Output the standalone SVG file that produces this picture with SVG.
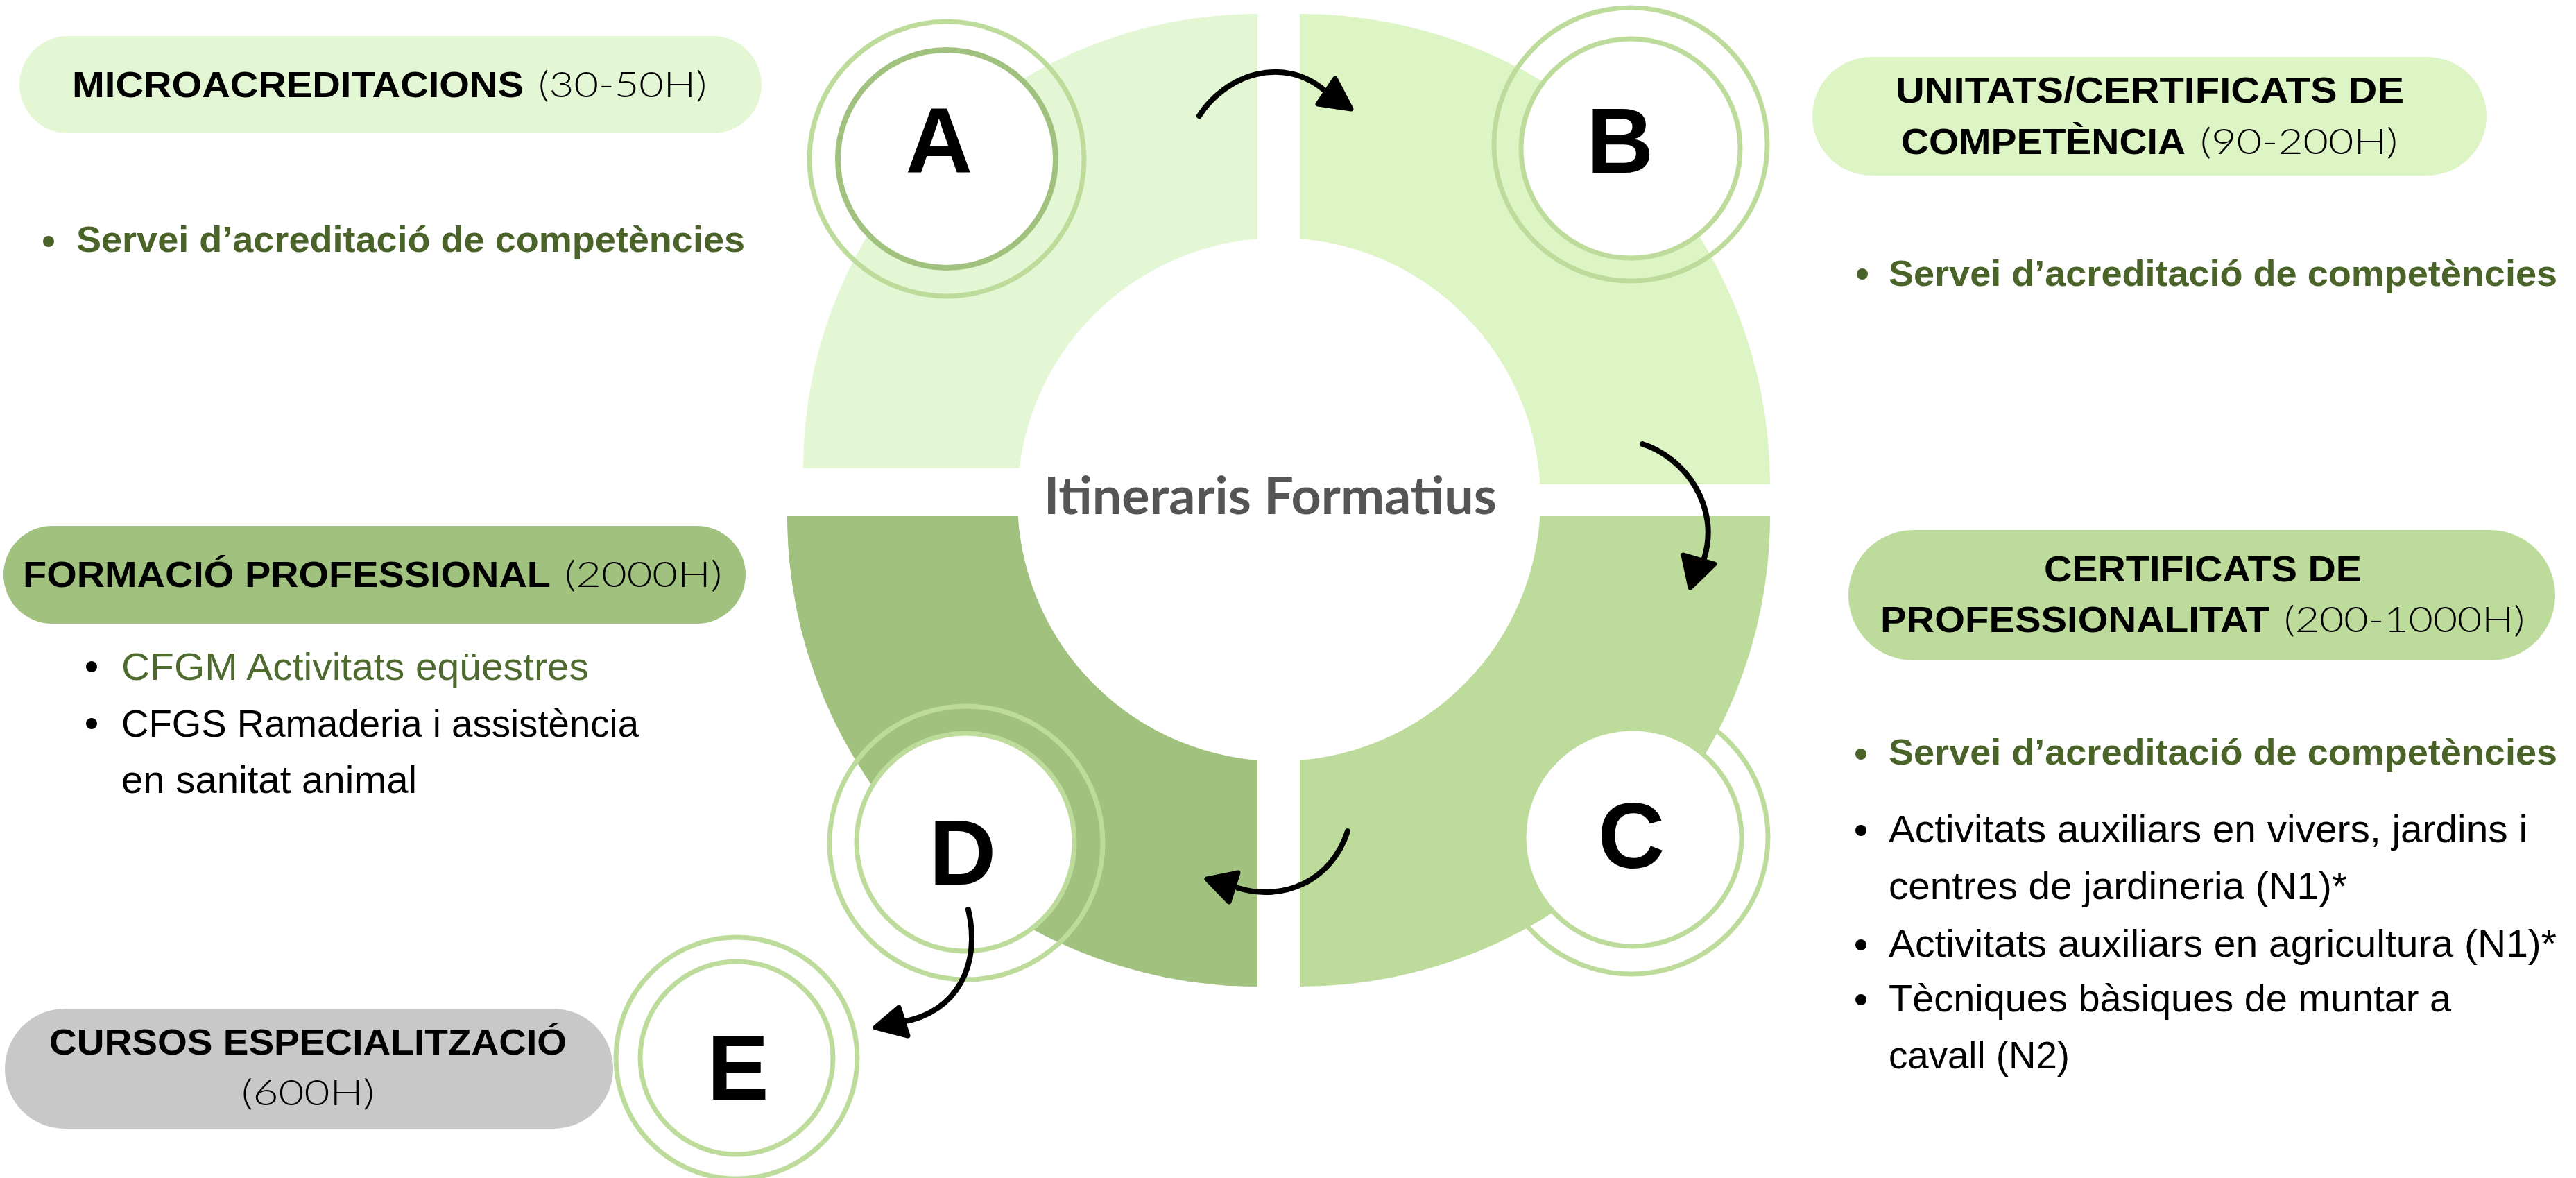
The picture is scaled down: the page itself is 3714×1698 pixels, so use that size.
<svg xmlns="http://www.w3.org/2000/svg" width="3714" height="1698" viewBox="0 0 3714 1698">
<style>
.ring{fill:none;stroke:#bddc9b;stroke-width:7}
.inner{fill:#fff;stroke:#bddc9b;stroke-width:7}
.letter{font-family:"Liberation Sans",Arial,sans-serif;font-weight:700;font-size:134px;fill:#000;text-anchor:middle}
.hb{font-family:"Liberation Sans",Arial,sans-serif;font-weight:700;font-size:52px;fill:#000}
.hl{font-family:Lato,"Open Sans",sans-serif;font-weight:300;font-size:52px;fill:#000}
.bg{font-family:"Liberation Sans",Arial,sans-serif;font-weight:700;font-size:52px;fill:#4a6329}
.br{font-family:"Liberation Sans",Arial,sans-serif;font-weight:400;font-size:56px;fill:#000}
.gr{fill:#4e6a2e}
.dotg{fill:#4a6329}
.dot{fill:#000}
.arrow{fill:none;stroke:#000;stroke-width:8;stroke-linecap:round}
.head{fill:#000;stroke:#000;stroke-width:7;stroke-linejoin:round}
</style>
<rect width="3714" height="1698" fill="#fff"/>
<g id="ring">
<path d="M1813,675 L1158,675 A655,655 0 0 1 1813,20 Z" fill="#e4f7d4"/>
<path d="M1874,698 L1874,20 A678,678 0 0 1 2552,698 Z" fill="#ddf4c5"/>
<path d="M1874,744 L2552,744 A678,678 0 0 1 1874,1422 Z" fill="#bddc9b"/>
<path d="M1813,744 L1813,1422 A678,678 0 0 1 1135,744 Z" fill="#a1c17e"/>
<circle cx="1844" cy="720" r="377" fill="#fff"/>
<text x="1505" y="741" textLength="653" lengthAdjust="spacingAndGlyphs" font-family="Lato,'Liberation Sans',sans-serif" font-weight="700" font-size="75" fill="#555555">Itineraris Formatius</text>
</g>
<g id="node-a">
<circle class="ring" cx="1365" cy="229" r="198"/>
<circle cx="1365" cy="229" r="157" fill="#fff" stroke="#a1c17e" stroke-width="8"/>
<text class="letter" x="1354" y="249">A</text>
</g>
<g id="node-b">
<circle class="ring" cx="2351" cy="208" r="197"/>
<circle class="inner" cx="2351" cy="214" r="158"/>
<text class="letter" x="2336" y="249">B</text>
</g>
<g id="node-c">
<circle class="ring" cx="2352" cy="1207" r="197"/>
<circle class="inner" cx="2354" cy="1207" r="157"/>
<text class="letter" x="2352" y="1251">C</text>
</g>
<g id="node-d">
<circle class="ring" cx="1393" cy="1215" r="197"/>
<circle class="inner" cx="1392" cy="1214" r="157"/>
<text class="letter" x="1388" y="1275">D</text>
</g>
<g id="node-e">
<circle class="ring" cx="1062" cy="1525" r="174"/>
<circle class="inner" cx="1062" cy="1525" r="139"/>
<text class="letter" x="1064" y="1585" font-size="119">E</text>
</g>
<g id="connectors">
<path class="arrow" d="M1729,167 C1765,110 1850,75 1915,135"/>
<polygon class="head" points="1925,113 1900,150 1948,157"/>
<path class="arrow" d="M2368,640 C2430,660 2480,730 2457,805"/>
<polygon class="head" points="2427,800 2472,813 2437,847"/>
<path class="arrow" d="M1943,1198 C1920,1270 1850,1300 1785,1280"/>
<polygon class="head" points="1785,1258 1772,1300 1740,1267"/>
<path class="arrow" d="M1396,1311 C1415,1390 1380,1460 1300,1473"/>
<polygon class="head" points="1296,1452 1309,1493 1262,1481"/>
</g>
<g id="label-a">
<rect x="28" y="52" width="1070" height="140" rx="70" fill="#e4f7d4"/>
<text class="hb" x="104" y="140" textLength="651" lengthAdjust="spacingAndGlyphs">MICROACREDITACIONS</text>
<text class="hl" x="776" y="140" textLength="243" lengthAdjust="spacingAndGlyphs">(30-50H)</text>
<circle class="dotg" cx="70" cy="348" r="8"/>
<text class="bg" x="110" y="363" textLength="964" lengthAdjust="spacingAndGlyphs">Servei d’acreditació de competències</text>
</g>
<g id="label-b">
<rect x="2613" y="82" width="972" height="171" rx="85.5" fill="#ddf4c5"/>
<text class="hb" x="2733" y="148" textLength="733" lengthAdjust="spacingAndGlyphs">UNITATS/CERTIFICATS DE</text>
<text class="hb" x="2741" y="222" textLength="410" lengthAdjust="spacingAndGlyphs">COMPETÈNCIA</text>
<text class="hl" x="3172" y="222" textLength="285" lengthAdjust="spacingAndGlyphs">(90-200H)</text>
<circle class="dotg" cx="2685" cy="395" r="8"/>
<text class="bg" x="2723" y="412" textLength="964" lengthAdjust="spacingAndGlyphs">Servei d’acreditació de competències</text>
</g>
<g id="label-c">
<rect x="2665" y="764" width="1019" height="188" rx="94" fill="#bddc9b"/>
<text class="hb" x="2947" y="838" textLength="458" lengthAdjust="spacingAndGlyphs">CERTIFICATS DE</text>
<text class="hb" x="2711" y="911" textLength="561" lengthAdjust="spacingAndGlyphs">PROFESSIONALITAT</text>
<text class="hl" x="3293" y="911" textLength="347" lengthAdjust="spacingAndGlyphs">(200-1000H)</text>
<circle class="dotg" cx="2683" cy="1087" r="8"/>
<text class="bg" x="2723" y="1102" textLength="964" lengthAdjust="spacingAndGlyphs">Servei d’acreditació de competències</text>
<circle class="dot" cx="2683" cy="1197" r="8"/>
<text class="br" x="2723" y="1214" textLength="921" lengthAdjust="spacingAndGlyphs">Activitats auxiliars en vivers, jardins i</text>
<text class="br" x="2723" y="1296" textLength="661" lengthAdjust="spacingAndGlyphs">centres de jardineria (N1)*</text>
<circle class="dot" cx="2683" cy="1362" r="8"/>
<text class="br" x="2723" y="1379" textLength="963" lengthAdjust="spacingAndGlyphs">Activitats auxiliars en agricultura (N1)*</text>
<circle class="dot" cx="2683" cy="1441" r="8"/>
<text class="br" x="2723" y="1458" textLength="811" lengthAdjust="spacingAndGlyphs">Tècniques bàsiques de muntar a</text>
<text class="br" x="2723" y="1540" textLength="261" lengthAdjust="spacingAndGlyphs">cavall (N2)</text>
</g>
<g id="label-d">
<rect x="5" y="758" width="1070" height="141" rx="70.5" fill="#a1c17e"/>
<text class="hb" x="33" y="846" textLength="761" lengthAdjust="spacingAndGlyphs">FORMACIÓ PROFESSIONAL</text>
<text class="hl" x="814" y="846" textLength="227" lengthAdjust="spacingAndGlyphs">(2000H)</text>
<circle class="dot" cx="132" cy="961" r="8"/>
<text class="br gr" x="175" y="980" textLength="674" lengthAdjust="spacingAndGlyphs">CFGM Activitats eqüestres</text>
<circle class="dot" cx="132" cy="1043" r="8"/>
<text class="br" x="175" y="1062" textLength="746" lengthAdjust="spacingAndGlyphs">CFGS Ramaderia i assistència</text>
<text class="br" x="175" y="1143" textLength="426" lengthAdjust="spacingAndGlyphs">en sanitat animal</text>
</g>
<g id="label-e">
<rect x="7" y="1454" width="877" height="173" rx="86.5" fill="#c8c8c8"/>
<text class="hb" x="71" y="1520" textLength="746" lengthAdjust="spacingAndGlyphs">CURSOS ESPECIALITZACIÓ</text>
<text class="hl" x="348" y="1593" textLength="192" lengthAdjust="spacingAndGlyphs">(600H)</text>
</g>
</svg>
